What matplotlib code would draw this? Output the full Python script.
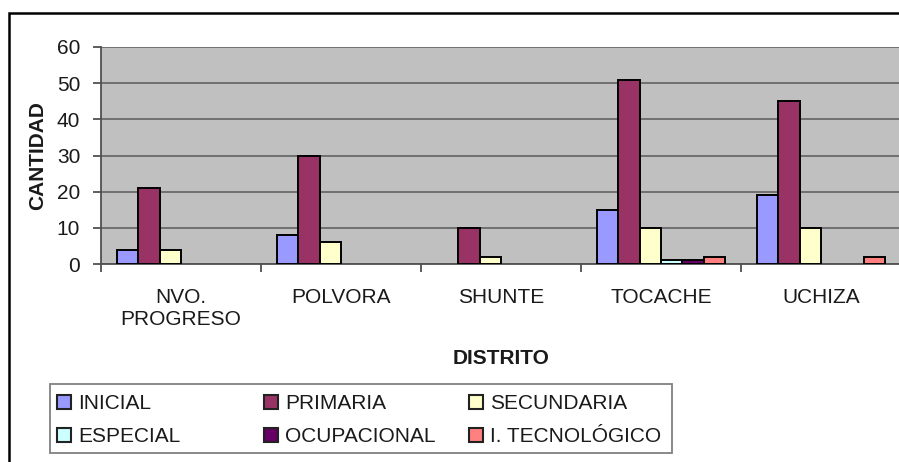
import matplotlib
matplotlib.use("Agg")
import matplotlib.pyplot as plt
import numpy as np
from matplotlib.patches import Rectangle

plt.rcParams['font.family'] = ['Liberation Sans', 'DejaVu Sans']

distritos = ["NVO.\nPROGRESO", "POLVORA", "SHUNTE", "TOCACHE", "UCHIZA"]
series_names = ["INICIAL", "PRIMARIA", "SECUNDARIA", "ESPECIAL", "OCUPACIONAL", "I. TECNOLÓGICO"]
inicial = [4, 8, 0, 15, 19]
primaria = [21, 30, 10, 51, 45]
secundaria = [4, 6, 2, 10, 10]
especial = [0, 0, 0, 1, 0]
ocupacional = [0, 0, 0, 1, 0]
i_tecnologico = [0, 0, 0, 2, 2]
series = [inicial, primaria, secundaria, especial, ocupacional, i_tecnologico]
colors = ["#9999FF", "#993366", "#FFFFCC", "#CCFFFF", "#660066", "#FF8080"]

FS = 15
TXT = "#1a1a1a"
W, H = 899, 462
fig = plt.figure(figsize=(W/100, H/100), dpi=100)
left, right, top, bottom = 101, 901, 47, 264
ax = fig.add_axes([left/W, 1-bottom/H, (right-left)/W, (bottom-top)/H])
ax.set_facecolor("#C0C0C0")

n = len(series)
bw = 0.8 / n
x = np.arange(len(distritos))
handles = []
for i, (vals, c, name) in enumerate(zip(series, colors, series_names)):
    v = np.array(vals, dtype=float)
    mask = v > 0
    ax.bar((x - 0.4 + bw*(i+0.5))[mask], v[mask], width=bw, color=c, edgecolor="black",
           linewidth=1.4, zorder=3)
    handles.append(Rectangle((0, 0), 1, 1, facecolor=c, edgecolor="#222222", linewidth=1.5, label=name))

ax.set_xlim(-0.5, len(distritos)-0.5)
ax.set_ylim(0, 60)
ax.set_yticks(range(0, 61, 10))
ax.yaxis.grid(True, color="#6a6a6a", linewidth=1.3, zorder=0)
ax.set_axisbelow(True)
for s in ["top", "right"]:
    ax.spines[s].set_visible(False)
for s in ["left", "bottom"]:
    ax.spines[s].set_color("#505050")
    ax.spines[s].set_linewidth(1.3)

ax.set_xticks(x)
ax.set_xticklabels(distritos, fontsize=FS, linespacing=1.2, color=TXT)
ax.tick_params(axis="x", length=0, pad=17)
ax.set_xticks(np.arange(-0.5, len(distritos), 1.0), minor=True)
ax.tick_params(axis="x", which="minor", length=6, color="#505050", width=1.3)
ax.tick_params(axis="y", length=6, color="#505050", width=1.3, labelsize=FS, pad=9,
               labelcolor=TXT)

ax.set_xlabel("DISTRITO", fontsize=FS, fontweight="bold", labelpad=15, color=TXT)
ax.set_ylabel("CANTIDAD", fontsize=FS, fontweight="bold", labelpad=7, color=TXT)

# outer frame
fig.patches.append(Rectangle((9/W, -0.1), 1.2, 1-13/H+0.1, transform=fig.transFigure,
                             fill=False, edgecolor="black", linewidth=1.8))

# legend frame
lx0, ly0, lx1, ly1 = 50, 384, 672, 453
fig.patches.append(Rectangle((lx0/W, 1-ly1/H), (lx1-lx0)/W, (ly1-ly0)/H,
                             transform=fig.transFigure, facecolor="white",
                             edgecolor="#808080", linewidth=1.3))

# three legend columns, row-major reading order
col_x = [57, 264, 469]
for col in range(3):
    ids = [col, col + 3]
    lg = fig.legend([handles[k] for k in ids], [series_names[k] for k in ids],
                    loc="upper left", bbox_to_anchor=(col_x[col]/W, 1-394/H),
                    frameon=False, fontsize=FS, handlelength=0.68, handleheight=0.68,
                    handletextpad=0.32, borderpad=0, borderaxespad=0,
                    labelspacing=0.69)
    for t in lg.get_texts():
        t.set_color(TXT)

fig.savefig("out.png", dpi=100)
